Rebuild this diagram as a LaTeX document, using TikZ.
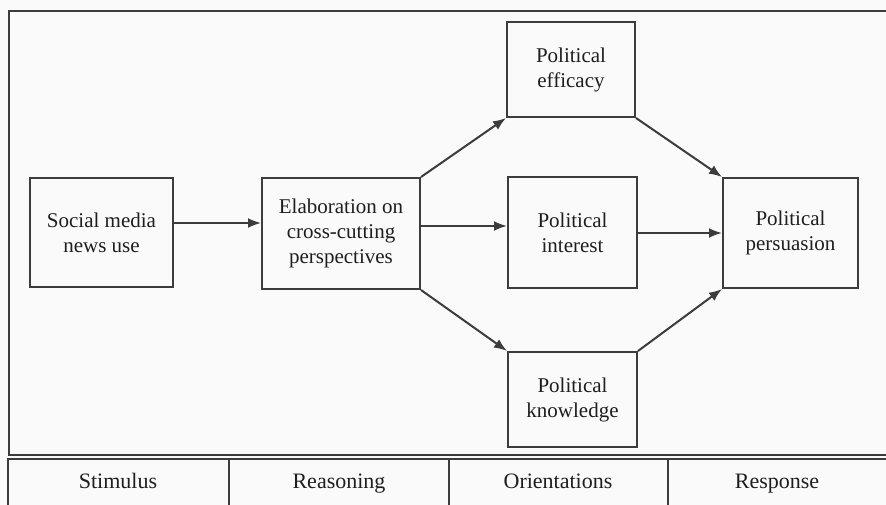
\documentclass[tikz,border=0pt]{standalone}
\usepackage{fontspec}
\setmainfont{Liberation Serif}
\usetikzlibrary{positioning, calc}
\usetikzlibrary{arrows.meta}
\definecolor{linegray}{HTML}{3C3C3C}
\definecolor{textgray}{HTML}{1E1E1E}
\tikzset{
  box/.style={draw=linegray, line width=2pt, align=center, inner sep=0pt,
    text=textgray, font=\fontsize{21}{25}\selectfont},
  arr/.style={draw=linegray, line width=2pt, -{Latex[length=13pt,width=10pt]}},
  frame/.style={draw=linegray, line width=2pt},
  stage/.style={text=textgray, anchor=base, font=\fontsize{22}{26}\selectfont}
}
\begin{document}
\begin{tikzpicture}[x=1pt, y=-1pt]
                \useasboundingbox (0,0) rectangle (886,505);
                \clip (0,0) rectangle (886,505);
                \fill[white!98!black] (0,0) rectangle (886,505);
                % outer frame and stage table
                \draw[frame] (890,11) -- (9,11) -- (9,455) -- (890,455);
                \draw[frame] (890,459) -- (8,459) -- (8,510);
                \draw[frame] (229,459) -- (229,510);
                \draw[frame] (449,459) -- (449,510);
                \draw[frame] (668,459) -- (668,510);
                \node[stage] (stim) at (118,488) {Stimulus};
                \node[stage] (reas) at (339,488) {Reasoning};
                \node[stage] (orie) at (558,488) {Orientations};
                \node[stage] (resp) at (777,488) {Response};
                % boxes
                \node[box, minimum width=143pt, minimum height=109pt] (social) at (101.5,232.5) {Social media\\news use};
                \node[box, minimum width=158pt, minimum height=111pt] (elab) at (341,233.5) {Elaboration on\\cross-cutting\\perspectives};
                \node[box, minimum width=128pt, minimum height=95pt] (eff) at (571,69.5) {Political\\efficacy};
                \node[box, minimum width=129pt, minimum height=111pt] (int) at (572.5,232.5) {Political\\interest};
                \node[box, minimum width=129pt, minimum height=95pt] (know) at (572.5,399.5) {Political\\knowledge};
                \node[box, minimum width=135pt, minimum height=110pt] (pers) at (790.5,233) {Political\\persuasion};
                % arrows
                \draw[arr] (social.east |- 0,223) -- (elab.west |- 0,223);
                \draw[arr] (elab.north east) -- (eff.south west);
                \draw[arr] (elab.east |- 0,226) -- (int.west |- 0,226);
                \draw[arr] (elab.south east) -- (know.north west);
                \draw[arr] (eff.south east) -- (pers.north west);
                \draw[arr] (int.east |- 0,233) -- (pers.west |- 0,233);
                \draw[arr] (know.north east) -- (pers.south west);
\end{tikzpicture}
\end{document}
